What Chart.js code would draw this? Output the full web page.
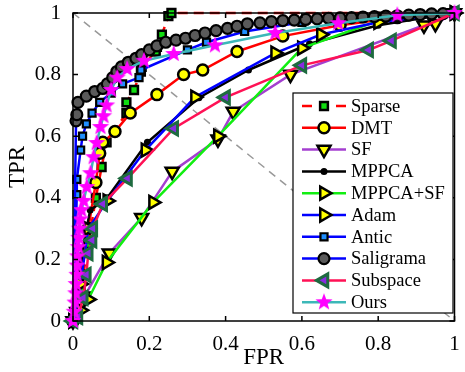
<!DOCTYPE html>
<html>
<head>
<meta charset="utf-8">
<script src="https://cdn.jsdelivr.net/npm/chart.js@4.4.1/dist/chart.umd.min.js"></script>
<style>
  html, body { margin: 0; padding: 0; background: #fff; }
  #wrap { width: 465px; height: 372px; }
</style>
</head>
<body>
<div id="wrap"><canvas id="roc" width="465" height="372"></canvas></div>
<script>
// tick values on both axes
const axisTicks = [0, 0.2, 0.4, 0.6, 0.8, 1];

// series (FPR, TPR)
const sparseFpr = [0, 0.02, 0.04, 0.06, 0.075, 0.088, 0.14, 0.14, 0.16, 0.178, 0.18, 0.217, 0.22, 0.233, 0.25, 0.258, 1];
const sparseTpr = [0, 0.1, 0.25, 0.4, 0.5, 0.58, 0.675, 0.71, 0.75, 0.81, 0.825, 0.875, 0.89, 0.93, 0.99, 1, 1];

const dmtFpr = [0, 0.02, 0.04, 0.06, 0.07, 0.078, 0.11, 0.15, 0.22, 0.29, 0.34, 0.43, 0.55, 0.7, 0.85, 1];
const dmtTpr = [0, 0.15, 0.3, 0.45, 0.545, 0.58, 0.615, 0.675, 0.735, 0.8, 0.815, 0.875, 0.925, 0.96, 0.985, 1];

const sfFpr = [0, 0.01, 0.03, 0.095, 0.18, 0.26, 0.38, 0.42, 0.57, 0.92, 0.95, 1];
const sfTpr = [0, 0.03, 0.08, 0.22, 0.335, 0.485, 0.59, 0.68, 0.8, 0.96, 0.965, 1];

const mppcaFpr = [0, 0.02, 0.045, 0.09, 0.195, 0.33, 0.46, 0.62, 0.8, 1];
const mppcaTpr = [0, 0.2, 0.36, 0.4, 0.58, 0.725, 0.815, 0.9, 0.96, 1];

const mppcaSfFpr = [0, 0.02, 0.04, 0.088, 0.21, 0.38, 0.6, 0.8, 1];
const mppcaSfTpr = [0, 0.035, 0.07, 0.19, 0.385, 0.6, 0.886, 0.975, 1];

const adamFpr = [0, 0.02, 0.04, 0.09, 0.19, 0.32, 0.53, 0.65, 0.8, 1];
const adamTpr = [0, 0.12, 0.3, 0.39, 0.555, 0.727, 0.87, 0.93, 0.97, 1];

const anticFpr = [0, 0.01, 0.01, 0.02, 0.025, 0.035, 0.05, 0.07, 0.1, 0.13, 0.173, 0.178, 0.3, 0.35, 0.45, 0.6, 0.8, 1];
const anticTpr = [0, 0.41, 0.46, 0.555, 0.6, 0.64, 0.675, 0.71, 0.74, 0.77, 0.79, 0.815, 0.88, 0.905, 0.94, 0.97, 0.99, 1];

const saligramaFpr = [0, 0.008, 0.01, 0.013, 0.035, 0.057, 0.078, 0.09, 0.104, 0.115, 0.127, 0.145, 0.165, 0.18, 0.2, 0.22, 0.243, 0.27, 0.295, 0.32, 0.346, 0.375, 0.405, 0.43, 0.457, 0.49, 0.52, 0.55, 0.58, 0.61, 0.64, 0.67, 0.7, 0.73, 0.76, 0.79, 0.82, 0.85, 0.88, 0.91, 0.94, 0.97, 1];
const saligramaTpr = [0, 0.65, 0.67, 0.71, 0.73, 0.745, 0.755, 0.77, 0.79, 0.81, 0.825, 0.84, 0.853, 0.865, 0.88, 0.893, 0.905, 0.912, 0.918, 0.927, 0.935, 0.943, 0.95, 0.957, 0.965, 0.968, 0.972, 0.975, 0.977, 0.979, 0.981, 0.983, 0.984, 0.985, 0.987, 0.988, 0.99, 0.991, 0.993, 0.995, 0.997, 0.998, 1];

const subspaceFpr = [0, 0.013, 0.027, 0.035, 0.04, 0.05, 0.052, 0.078, 0.143, 0.264, 0.4, 0.6, 0.775, 0.835, 1];
const subspaceTpr = [0, 0.013, 0.075, 0.15, 0.22, 0.262, 0.3, 0.38, 0.463, 0.625, 0.726, 0.83, 0.88, 0.91, 1];

const oursFpr = [0, 0.003, 0.005, 0.007, 0.008, 0.01, 0.011, 0.012, 0.014, 0.015, 0.017, 0.019, 0.022, 0.028, 0.036, 0.046, 0.054, 0.062, 0.072, 0.08, 0.088, 0.1, 0.116, 0.142, 0.186, 0.264, 0.372, 0.53, 0.695, 0.85, 1];
const oursTpr = [0, 0.03, 0.06, 0.09, 0.12, 0.15, 0.18, 0.21, 0.24, 0.27, 0.3, 0.33, 0.36, 0.39, 0.435, 0.48, 0.532, 0.578, 0.63, 0.665, 0.7, 0.75, 0.79, 0.818, 0.845, 0.867, 0.895, 0.935, 0.967, 0.993, 1];

const FONT = '"Liberation Serif", "Times New Roman", serif';

function pts(fpr, tpr) {
  return fpr.map((v, i) => ({ x: v, y: tpr[i] }));
}

function makeStar(r, color) {
  const c = document.createElement('canvas');
  const s = Math.ceil(r * 2 + 2);
  c.width = c.height = s;
  const g = c.getContext('2d');
  g.fillStyle = color;
  g.beginPath();
  for (let i = 0; i < 10; i++) {
    const rr = i % 2 ? r * 0.42 : r;
    const a = -Math.PI / 2 + i * Math.PI / 5;
    g.lineTo(s / 2 + rr * Math.cos(a), s / 2 + rr * Math.sin(a));
  }
  g.closePath();
  g.fill();
  return c;
}

const star = makeStar(9, '#ff00ff');

function series(label, fpr, tpr, o) {
  return {
    label,
    data: pts(fpr, tpr),
    showLine: true,
    borderColor: o.line,
    borderWidth: 2.5,
    borderDash: o.dash || [],
    pointStyle: o.style,
    pointRotation: o.rot || 0,
    pointRadius: o.r,
    pointBackgroundColor: o.fill,
    pointBorderColor: o.edge || '#000',
    pointBorderWidth: o.bw == null ? 2 : o.bw,
    clip: false,
    tension: 0
  };
}

const datasets = [
  series('Sparse', sparseFpr, sparseTpr, { line: '#ff0000', dash: [10, 6], style: 'rect', r: 5.5, fill: '#11dd11', bw: 2.5 }),
  series('DMT', dmtFpr, dmtTpr, { line: '#ff0000', style: 'circle', r: 5.5, fill: '#ffff00', bw: 2.5 }),
  series('SF', sfFpr, sfTpr, { line: '#a43fd0', style: 'triangle', rot: 180, r: 7.5, fill: '#ffff00', bw: 2.5 }),
  series('MPPCA', mppcaFpr, mppcaTpr, { line: '#000000', style: 'circle', r: 3.5, fill: '#000000', bw: 0 }),
  series('MPPCA+SF', mppcaSfFpr, mppcaSfTpr, { line: '#11ee11', style: 'triangle', rot: 90, r: 7.5, fill: '#ffff00', bw: 2.5 }),
  series('Adam', adamFpr, adamTpr, { line: '#0000ff', style: 'triangle', rot: 90, r: 7.5, fill: '#ffff00', bw: 2.5 }),
  series('Antic', anticFpr, anticTpr, { line: '#0000ff', style: 'rect', r: 5, fill: '#1f8fff', bw: 2.2 }),
  series('Saligrama', saligramaFpr, saligramaTpr, { line: '#0000ff', style: 'circle', r: 5.5, fill: '#5a5a5a', bw: 2.2 }),
  series('Subspace', subspaceFpr, subspaceTpr, { line: '#ff1155', style: 'triangle', rot: -90, r: 7.5, fill: '#8a2be2', edge: '#1e6b40', bw: 3 }),
  series('Ours', oursFpr, oursTpr, { line: '#3cb8b8', style: star, r: 7, fill: '#ff00ff', bw: 0 })
];
// later series are drawn on top, like the original plot
datasets.forEach((d, i) => { d.order = datasets.length - i; });

// chance diagonal
datasets.push({
  label: '',
  data: [{ x: 0, y: 1 }, { x: 1, y: 0 }],
  showLine: true,
  borderColor: '#999999',
  borderWidth: 1.5,
  borderDash: [8, 6],
  pointRadius: 0,
  order: 50
});

const boxPlugin = {
  id: 'box',
  afterDatasetsDraw(chart) {
    const { ctx, chartArea: a, scales: { x, y } } = chart;
    ctx.save();
    ctx.strokeStyle = '#000';
    ctx.lineWidth = 1.5;
    ctx.setLineDash([]);
    ctx.strokeRect(a.left, a.top, a.right - a.left, a.bottom - a.top);
    ctx.beginPath();
    axisTicks.forEach(v => {
      const px = x.getPixelForValue(v);
      ctx.moveTo(px, a.bottom); ctx.lineTo(px, a.bottom - 5);
      ctx.moveTo(px, a.top); ctx.lineTo(px, a.top + 5);
      const py = y.getPixelForValue(v);
      ctx.moveTo(a.left, py); ctx.lineTo(a.left + 5, py);
      ctx.moveTo(a.right, py); ctx.lineTo(a.right - 5, py);
    });
    ctx.stroke();
    ctx.restore();
  }
};

const legendPlugin = {
  id: 'boxLegend',
  afterDraw(chart) {
    const ctx = chart.ctx;
    const items = chart.data.datasets.filter(d => d.label);
    const bx = 293, by = 93, bw = 160, bh = 220;
    ctx.save();
    ctx.fillStyle = '#fff';
    ctx.fillRect(bx, by, bw, bh);
    ctx.strokeStyle = '#000';
    ctx.lineWidth = 1.2;
    ctx.setLineDash([]);
    ctx.strokeRect(bx, by, bw, bh);
    items.forEach((d, i) => {
      const yy = by + 13 + i * 21.8;
      ctx.strokeStyle = d.borderColor;
      ctx.lineWidth = 2.5;
      ctx.beginPath();
      if (d.borderDash.length) {
        ctx.moveTo(302, yy); ctx.lineTo(312, yy);
        ctx.moveTo(336, yy); ctx.lineTo(346, yy);
      } else {
        ctx.moveTo(302, yy); ctx.lineTo(346, yy);
      }
      ctx.stroke();
      ctx.fillStyle = d.pointBackgroundColor;
      ctx.strokeStyle = d.pointBorderColor;
      ctx.lineWidth = d.pointBorderWidth;
      Chart.helpers.drawPoint(ctx, {
        pointStyle: d.pointStyle,
        rotation: d.pointRotation,
        radius: d.pointRadius,
        borderWidth: d.pointBorderWidth
      }, 324, yy);
      ctx.fillStyle = '#000';
      ctx.font = '18.5px ' + FONT;
      ctx.textBaseline = 'middle';
      ctx.textAlign = 'left';
      ctx.fillText(d.label, 351, yy + 1);
    });
    ctx.restore();
  }
};

const tickFont = { family: FONT, size: 21 };
const titleFont = { family: FONT, size: 23 };
const tickLabel = v => String(+v.toFixed(1));

new Chart(document.getElementById('roc'), {
  type: 'scatter',
  data: { datasets },
  options: {
    responsive: false,
    animation: false,
    layout: { padding: { top: 13, right: 5, left: 0, bottom: 0 } },
    plugins: { legend: { display: false }, tooltip: { enabled: false } },
    scales: {
      x: {
        type: 'linear', min: 0, max: 1,
        grid: { display: false },
        border: { display: false },
        ticks: { stepSize: 0.2, padding: 3, color: '#000', font: tickFont, maxRotation: 0, callback: tickLabel },
        title: { display: true, text: 'FPR', color: '#000', font: titleFont, padding: { top: 0, bottom: 0 } },
        afterFit: s => { s.height = 51; s.paddingLeft = 0; s.paddingRight = 0; }
      },
      y: {
        type: 'linear', min: 0, max: 1,
        grid: { display: false },
        border: { display: false },
        ticks: { stepSize: 0.2, padding: 4, color: '#000', font: tickFont, callback: tickLabel },
        title: { display: true, text: 'TPR', color: '#000', font: titleFont, padding: { top: 4, bottom: 0 } },
        afterFit: s => { s.width = 73; s.paddingTop = 0; s.paddingBottom = 0; }
      }
    }
  },
  plugins: [boxPlugin, legendPlugin]
});
</script>
</body>
</html>
